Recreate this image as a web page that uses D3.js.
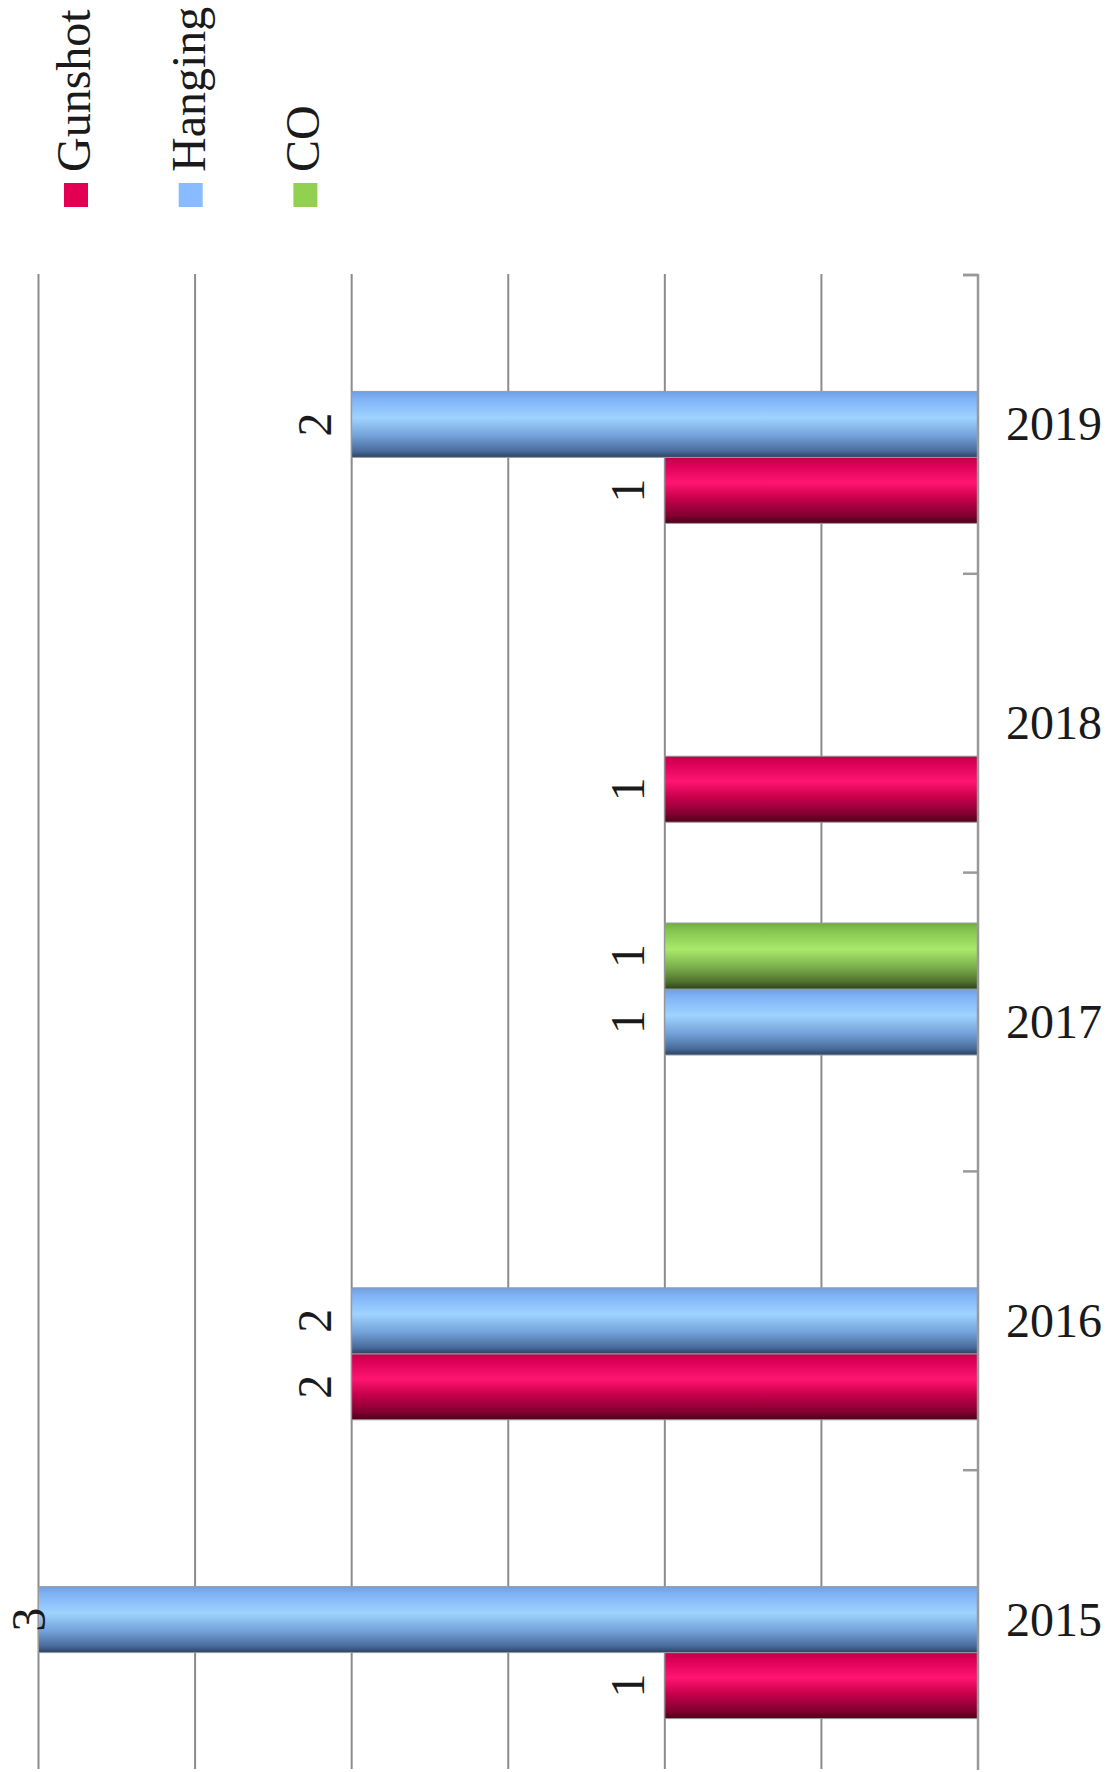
<!DOCTYPE html>
<html>
<head>
<meta charset="utf-8">
<script src="https://cdn.jsdelivr.net/npm/d3@7"></script>
<style>
  body { margin: 0; background: #fff; }
  text { font-family: "Liberation Serif", "Times New Roman", serif; fill: #1a1a1a; }
</style>
</head>
<body>
<div id="chart"></div>
<script>
const WIDTH = 1116, HEIGHT = 1772;

// DATA
const years = ["2015", "2016", "2017", "2018", "2019"];
const series = ["Gunshot", "Hanging", "CO"];
const gunshot = [1, 2, 0, 1, 1];
const hanging = [3, 2, 1, 0, 2];
const co = [0, 0, 1, 0, 0];
const valueTicks = [0, 0.5, 1, 1.5, 2, 2.5, 3];

const legendColors = { Gunshot: "#e30052", Hanging: "#88bbff", CO: "#92d050" };
const values = { Gunshot: gunshot, Hanging: hanging, CO: co };

const svg = d3.select("#chart").append("svg")
  .attr("width", WIDTH).attr("height", HEIGHT);

// GRADIENTS (3D look across the bar thickness)
const gradStops = {
  Gunshot: [[0, "#c4004a"], [0.12, "#dc0058"], [0.38, "#ff1571"], [0.62, "#c8004c"], [0.88, "#820030"], [1, "#4e0018"]],
  Hanging: [[0, "#6f9fe2"], [0.12, "#80b3f6"], [0.4, "#9fd3ff"], [0.68, "#72a0d8"], [0.9, "#4a6c9c"], [1, "#2c4264"]],
  CO: [[0, "#6eae3e"], [0.12, "#86c650"], [0.4, "#a9e96a"], [0.68, "#7aac4a"], [0.9, "#4c6e2c"], [1, "#2c4219"]]
};
const defs = svg.append("defs");
series.forEach(s => {
  const g = defs.append("linearGradient").attr("id", "grad-" + s)
    .attr("x1", 0).attr("y1", 0).attr("x2", 0).attr("y2", 1);
  gradStops[s].forEach(([o, c]) => g.append("stop").attr("offset", o).attr("stop-color", c));
});

// SCALES
const xScale = d3.scaleLinear().domain([0, 3]).range([978, 38.5]);
const yScale = d3.scaleBand().domain(years.slice().reverse()).range([275, 1769]).paddingInner(0);
const ySub = d3.scaleBand().domain(["CO", "Hanging", "Gunshot"])
  .range([0, yScale.bandwidth()]).paddingInner(0).paddingOuter(0.764);

// GRIDLINES
svg.append("g").selectAll("line").data(valueTicks.filter(d => d > 0)).enter().append("line")
  .attr("x1", d => xScale(d)).attr("x2", d => xScale(d))
  .attr("y1", 274).attr("y2", 1769)
  .attr("stroke", "#8c8c8c").attr("stroke-width", 2);

// BARS
const groups = svg.append("g").selectAll("g").data(years).enter().append("g")
  .attr("transform", d => `translate(0, ${yScale(d)})`);

groups.selectAll("rect")
  .data((d, i) => series.map(s => ({ s, v: values[s][i] })).filter(e => e.v > 0))
  .enter().append("rect")
  .attr("x", d => xScale(d.v))
  .attr("y", d => ySub(d.s))
  .attr("width", d => xScale(0) - xScale(d.v))
  .attr("height", ySub.bandwidth())
  .attr("fill", d => `url(#grad-${d.s})`)
  .attr("stroke", "#9a9a9a").attr("stroke-width", 1);

// VALUE LABELS
groups.selectAll("text")
  .data((d, i) => series.map(s => ({ s, v: values[s][i] })).filter(e => e.v > 0))
  .enter().append("text")
  .attr("transform", d => `translate(${Math.max(xScale(d.v) - 21, 45)}, ${ySub(d.s) + ySub.bandwidth() / 2}) rotate(-90)`)
  .attr("text-anchor", "middle")
  .style("font-size", "48px")
  .text(d => d.v);

// CATEGORY AXIS
const axis = svg.append("g");
axis.append("line")
  .attr("x1", 978).attr("x2", 978).attr("y1", 274).attr("y2", 1770)
  .attr("stroke", "#999").attr("stroke-width", 2.5);
const bounds = years.map(d => yScale(d)).concat([yScale.range()[0]]);
axis.selectAll("line.tick").data(bounds).enter().append("line")
  .attr("class", "tick")
  .attr("x1", 963).attr("x2", 978)
  .attr("y1", d => d).attr("y2", d => d)
  .attr("stroke", "#999").attr("stroke-width", 2.5);
axis.selectAll("text").data(years).enter().append("text")
  .attr("x", 1054).attr("y", d => yScale(d) + yScale.bandwidth() / 2 + 16)
  .attr("text-anchor", "middle")
  .style("font-size", "48px")
  .text(d => d);

// LEGEND
const legend = svg.append("g").selectAll("g").data(series).enter().append("g")
  .attr("transform", (d, i) => `translate(${64 + i * 114.7}, 0)`);
legend.append("rect")
  .attr("x", 0).attr("y", 183).attr("width", 24).attr("height", 24)
  .attr("fill", d => legendColors[d]);
legend.append("text")
  .attr("transform", "translate(26, 172) rotate(-90)")
  .style("font-size", "48px")
  .text(d => d);
</script>
</body>
</html>
